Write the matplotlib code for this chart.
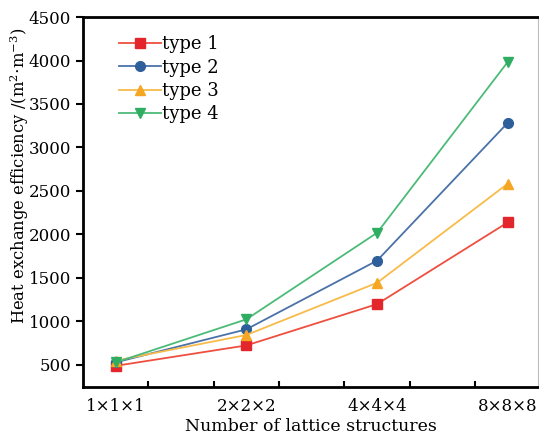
import matplotlib
matplotlib.use("Agg")
import matplotlib.pyplot as plt
from matplotlib.ticker import FixedLocator

plt.rcParams["font.family"] = "DejaVu Serif"
plt.rcParams["mathtext.fontset"] = "dejavuserif"

categories = ["1×1×1", "2×2×2", "4×4×4", "8×8×8"]
type1 = [490, 725, 1200, 2140]
type2 = [530, 910, 1700, 3285]
type3 = [550, 845, 1445, 2585]
type4 = [530, 1025, 2020, 3985]

series = [
    ("type 1", type1, "#ee4f3f", "#e3262b", "s"),
    ("type 2", type2, "#4a72a8", "#2f5f9a", "o"),
    ("type 3", type3, "#f8bb4a", "#f5a623", "^"),
    ("type 4", type4, "#4cbb78", "#2fae63", "v"),
]

fig = plt.figure(figsize=(5.39, 4.36), dpi=100)
ax = fig.add_axes([0.154, 0.113, 0.844, 0.848])

x = list(range(len(categories)))
for label, vals, lc, mc, mk in series:
    ax.plot(x, vals, color=lc, lw=1.3, marker=mk, markersize=7,
            markerfacecolor=mc, markeredgecolor=mc, label=label)

ax.set_xlim(-0.25, 3.23)
ax.set_ylim(250, 4500)
ax.set_yticks(range(500, 4501, 500))
ax.set_xticks(x)
ax.set_xticklabels(categories)
ax.xaxis.set_minor_locator(FixedLocator([0.25, 0.75, 1.25, 1.75, 2.25, 2.75]))
ax.tick_params(axis="x", which="major", length=0, labelsize=12, pad=8)
ax.tick_params(axis="x", which="minor", direction="in", length=4, width=1.5)
ax.tick_params(axis="y", which="major", direction="out", length=5, width=1.5,
               labelsize=12)

for side in ["left", "bottom", "top"]:
    ax.spines[side].set_linewidth(2)
ax.spines["right"].set_linewidth(0.8)
ax.spines["right"].set_color("#bbbbbb")

ax.set_xlabel("Number of lattice structures", fontsize=12.5, labelpad=2)
ax.set_ylabel(r"Heat exchange efficiency /(m$^2$$\cdot$m$^{-3}$)",
              fontsize=11.8)
ax.yaxis.set_label_coords(-0.115, 0.57)

ax.legend(loc="upper left", bbox_to_anchor=(0.052, 0.985), frameon=False,
          fontsize=13, handlelength=2.3, handletextpad=0.05,
          labelspacing=0.3, borderaxespad=0.3)

fig.savefig("out.png", dpi=100)
